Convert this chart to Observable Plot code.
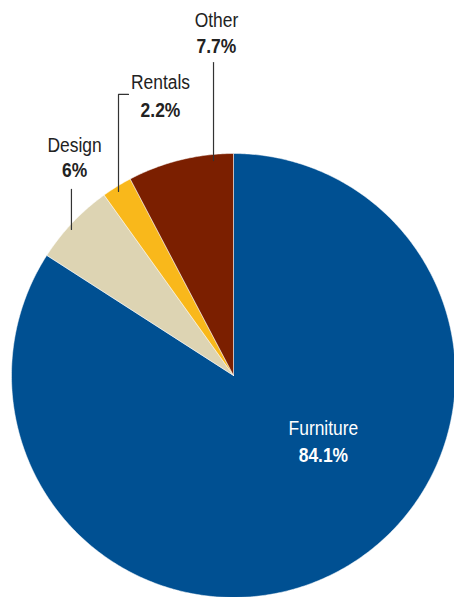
<!DOCTYPE html>
<html>
<head>
<meta charset="utf-8">
<script src="https://cdn.jsdelivr.net/npm/d3@7"></script>
<script src="https://cdn.jsdelivr.net/npm/@observablehq/plot@0.6"></script>
<style>
  html, body { margin: 0; padding: 0; background: #fff; }
  #chart svg { display: block; }
</style>
</head>
<body>
<div id="chart"></div>
<script>
// ---- data ----
const categories = ["Furniture", "Design", "Rentals", "Other"];
const shares = [84.1, 6, 2.2, 7.7];
const shareLabels = ["84.1%", "6%", "2.2%", "7.7%"];
const colors = ["#005092", "#ddd4b3", "#f9b81b", "#7b1f00"];

// ---- label layout (unit-radius coordinates, pie centre = 0,0) ----
const labelX = [0.405, -0.716, -0.329, -0.077];
const nameY = [-0.236, 1.038, 1.320, 1.601];
const pctY = [-0.358, 0.923, 1.196, 1.482];
const labelFill = ["#ffffff", "#222222", "#222222", "#222222"];
const leaders = [
  {cat: "Design", pts: [[-0.730, 0.838], [-0.730, 0.658]]},
  {cat: "Rentals", pts: [[-0.473, 1.266], [-0.518, 1.266], [-0.518, 0.829]]},
  {cat: "Other", pts: [[-0.090, 1.410], [-0.090, 0.968]]}
];

// ---- build slice outlines from the shares ----
const total = d3.sum(shares);
const slicePts = [];
let acc = 0;
categories.forEach((c, i) => {
  const a0 = acc / total * 2 * Math.PI;
  acc += shares[i];
  const a1 = acc / total * 2 * Math.PI;
  const n = Math.max(2, Math.ceil((a1 - a0) / 0.01));
  slicePts.push({cat: c, x: 0, y: 0});
  for (let k = 0; k <= n; k++) {
    const a = a0 + (a1 - a0) * k / n;
    slicePts.push({cat: c, x: Math.sin(a), y: Math.cos(a)});
  }
  slicePts.push({cat: c, x: 0, y: 0});
});

const labels = categories.map((c, i) => ({
  cat: c, name: c, pct: shareLabels[i], x: labelX[i], yn: nameY[i], yp: pctY[i], fill: labelFill[i]
}));
const leaderPts = leaders.flatMap(l => l.pts.map(p => ({cat: l.cat, x: p[0], y: p[1]})));

const font = "'Liberation Sans', Arial, sans-serif";

const chart = Plot.plot({
  width: 454,
  height: 597,
  margin: 0,
  x: {domain: [-1, 1], range: [11, 455], axis: null},
  y: {domain: [-1, 1], range: [597, 153], axis: null},
  color: {domain: categories, range: colors},
  style: {fontFamily: font, background: "#fff"},
  marks: [
    Plot.line(slicePts, {x: "x", y: "y", z: "cat", fill: "cat", stroke: "#ffffff", strokeWidth: 0.5, strokeLinejoin: "round"}),
    Plot.line(leaderPts, {x: "x", y: "y", z: "cat", stroke: "#333333", strokeWidth: 1.2}),
    Plot.text(labels, {x: "x", y: "yn", text: "name", fill: "fill", fontSize: 21, fontFamily: font}),
    Plot.text(labels, {x: "x", y: "yp", text: "pct", fill: "fill", fontSize: 21, fontWeight: "bold", fontFamily: font})
  ]
});
// condense the label glyphs horizontally (condensed grotesque look)
chart.querySelectorAll("text").forEach(t => {
  const tr = t.getAttribute("transform") || "";
  t.setAttribute("transform", tr + " scale(0.83,1)");
});
document.getElementById("chart").appendChild(chart);
</script>
</body>
</html>
